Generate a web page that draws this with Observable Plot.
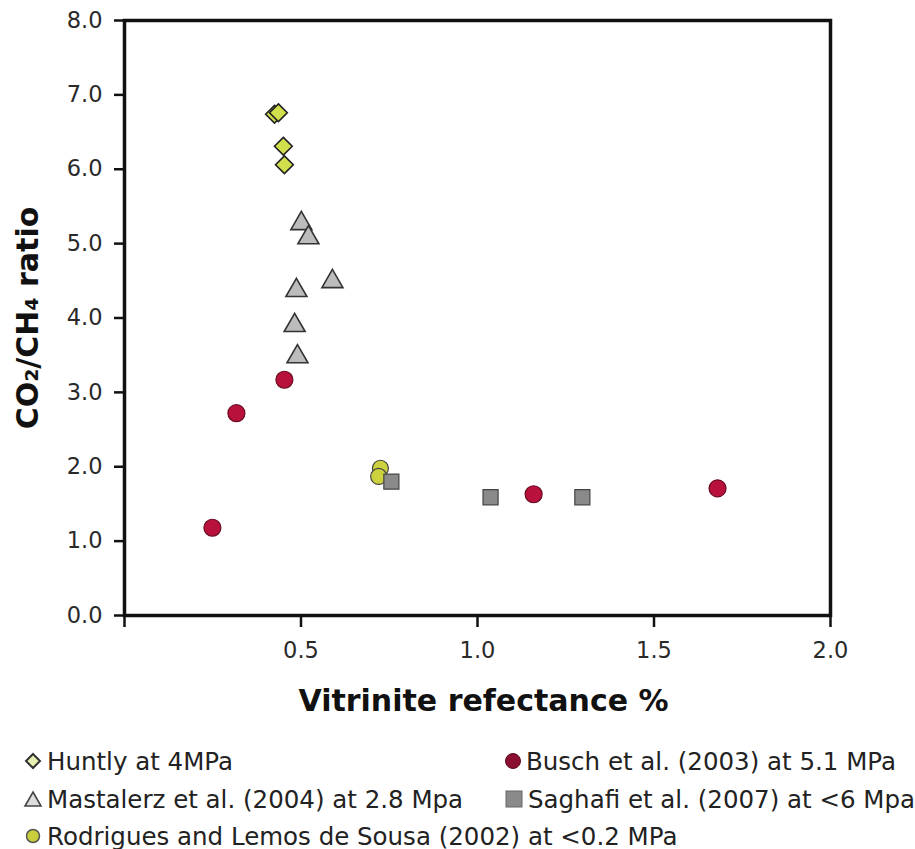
<!DOCTYPE html>
<html>
<head>
<meta charset="utf-8">
<script src="https://cdn.jsdelivr.net/npm/d3@7"></script>
<script src="https://cdn.jsdelivr.net/npm/@observablehq/plot@0.6"></script>
<style>
  html, body { margin: 0; padding: 0; background: white; }
  #wrap { position: relative; width: 915px; height: 849px; overflow: hidden; }
  #legend { position: absolute; left: 0; top: 730px; width: 915px; height: 119px;
            font-family: "DejaVu Sans", sans-serif; font-size: 24.5px; color: #222; }
  .item { position: absolute; white-space: nowrap; display: flex; align-items: center; height: 30px; }
  .item svg { flex: none; margin-right: 4px; }
</style>
</head>
<body>
<div id="wrap">
  <div id="chart"></div>
  <div id="legend"></div>
</div>
<script>
// ---- data ----
const seriesNames = [
  "Huntly at 4MPa",
  "Busch et al. (2003) at 5.1 MPa",
  "Mastalerz et al. (2004) at 2.8 Mpa",
  "Saghafi et al. (2007) at <6 Mpa",
  "Rodrigues and Lemos de Sousa (2002) at <0.2 MPa"
];
const huntlyX = [0.425, 0.436, 0.450, 0.453];
const huntlyY = [6.74, 6.76, 6.31, 6.06];
const mastalerzX = [0.501, 0.521, 0.487, 0.589, 0.482, 0.490];
const mastalerzY = [5.27, 5.08, 4.37, 4.49, 3.90, 3.48];
const buschX = [0.453, 0.317, 0.249, 1.159, 1.680];
const buschY = [3.17, 2.72, 1.18, 1.63, 1.71];
const rodriguesX = [0.725, 0.720];
const rodriguesY = [1.98, 1.87];
const saghafiX = [0.756, 1.037, 1.297];
const saghafiY = [1.80, 1.59, 1.59];

const xTicks = [0, 0.5, 1.0, 1.5, 2.0];
const yTicks = [0, 1, 2, 3, 4, 5, 6, 7, 8];
const xLabel = "Vitrinite refectance %";
const yLabel = "CO₂/CH₄ ratio";

const toRows = (xs, ys) => xs.map((x, i) => ({x, y: ys[i]}));
const huntly = toRows(huntlyX, huntlyY);
const mastalerz = toRows(mastalerzX, mastalerzY);
const busch = toRows(buschX, buschY);
const rodrigues = toRows(rodriguesX, rodriguesY);
const saghafi = toRows(saghafiX, saghafiY);

const chart = Plot.plot({
  width: 915,
  height: 730,
  marginLeft: 124,
  marginRight: 85,
  marginTop: 20,
  marginBottom: 115,
  style: {fontFamily: "DejaVu Sans, sans-serif", background: "white", color: "#2a2a2a"},
  x: {domain: [0, 2]},
  y: {domain: [0, 8]},
  marks: [
    Plot.axisY({ticks: yTicks, tickFormat: d => d.toFixed(1), tickSize: 10, tickPadding: 12,
                fontSize: 22.5, strokeWidth: 2.5, stroke: "#111", label: null}),
    Plot.axisX({ticks: xTicks, tickFormat: d => d === 0 ? "" : d.toFixed(1), tickSize: 12, tickPadding: 15,
                fontSize: 22.5, strokeWidth: 2.5, stroke: "#111", label: null}),
    Plot.frame({stroke: "#111", strokeWidth: 3.5}),
    Plot.text([yLabel], {frameAnchor: "left", dx: -96, rotate: -90, fontSize: 30, fontWeight: "bold",
                         fill: "#111", textAnchor: "middle", lineAnchor: "middle"}),
    Plot.text([xLabel], {frameAnchor: "bottom", dx: 6, dy: 86, fontSize: 30, fontWeight: "bold",
                         fill: "#111", textAnchor: "middle", lineAnchor: "middle"}),
    Plot.dot(huntly, {x: "x", y: "y", symbol: "diamond2", r: 8, fill: "#d2df4c", stroke: "#222", strokeWidth: 1.6}),
    Plot.dot(mastalerz, {x: "x", y: "y", symbol: "triangle", r: 7.8, fill: "#bcbcbc", stroke: "#333", strokeWidth: 1.6}),
    Plot.dot(busch, {x: "x", y: "y", symbol: "circle", r: 8.5, fill: "#b8123c", stroke: "#6a0a22", strokeWidth: 1.2}),
    Plot.dot(rodrigues, {x: "x", y: "y", symbol: "circle", r: 8, fill: "#ccd23e", stroke: "#444", strokeWidth: 1.2}),
    Plot.dot(saghafi, {x: "x", y: "y", symbol: "square", r: 8.5, fill: "#8a8a8a", stroke: "#444", strokeWidth: 1.2})
  ]
});
document.getElementById("chart").appendChild(chart);

// ---- legend ----
const sym = {
  huntly: '<svg width="20" height="20" viewBox="-10 -10 20 20"><path d="M0,-7L7,0L0,7L-7,0Z" fill="#e8efb0" stroke="#333" stroke-width="2"/></svg>',
  busch: '<svg width="18" height="20" viewBox="-9 -10 18 20"><circle r="7.5" fill="#8a0f30" stroke="#5a0a1e" stroke-width="1"/></svg>',
  mastalerz: '<svg width="20" height="20" viewBox="-10 -10 20 20"><path d="M0,-7L8,7L-8,7Z" fill="#ddd" stroke="#444" stroke-width="1.6"/></svg>',
  saghafi: '<svg width="20" height="20" viewBox="-10 -10 20 20"><rect x="-8" y="-8" width="16" height="16" fill="#8a8a8a" stroke="#666" stroke-width="1"/></svg>',
  rodrigues: '<svg width="20" height="20" viewBox="-10 -10 20 20"><circle r="6.5" fill="#c8cf3a" stroke="#555" stroke-width="1.5"/></svg>'
};
const items = [
  {key: "huntly", name: seriesNames[0], left: 23, top: 16},
  {key: "busch", name: seriesNames[1], left: 504, top: 16},
  {key: "mastalerz", name: seriesNames[2], left: 23, top: 54},
  {key: "saghafi", name: seriesNames[3], left: 504, top: 54},
  {key: "rodrigues", name: seriesNames[4], left: 23, top: 91}
];
const legend = document.getElementById("legend");
for (const it of items) {
  const div = document.createElement("div");
  div.className = "item";
  div.style.left = it.left + "px";
  div.style.top = it.top + "px";
  div.innerHTML = sym[it.key] + "<span>" + it.name.replace(/</g, "&lt;") + "</span>";
  legend.appendChild(div);
}
</script>
</body>
</html>
